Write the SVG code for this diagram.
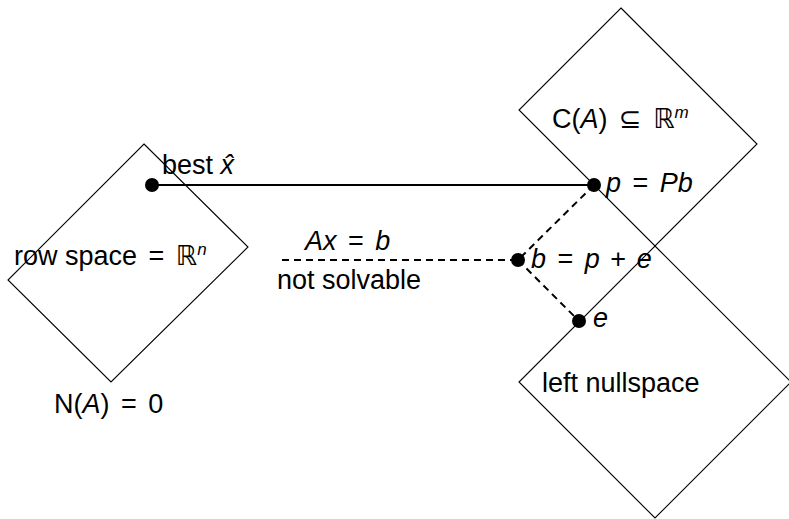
<svg xmlns="http://www.w3.org/2000/svg" width="789" height="519" viewBox="0 0 789 519">
<style>
.sp{fill:none;stroke:#000;stroke-width:1.1}
.t{font-family:"Liberation Sans","DejaVu Sans",sans-serif;font-size:27px;fill:#000}
.i{font-style:italic}
.m{word-spacing:4px}
.b{word-spacing:3px}
.sup{font-size:17px;font-style:italic}
.dot{fill:#000}
.solid{stroke:#000;stroke-width:2;fill:none}
.dash{stroke:#000;stroke-width:2;fill:none;stroke-dasharray:7 5}
</style>
<rect width="789" height="519" fill="#fff"/>
<g id="rowspace">
<polygon class="sp" points="144,144 248,247 111,382 8,280"/>
<text class="t" x="14" y="265">row space<tspan class="m"> = </tspan>ℝ<tspan class="sup" dy="-10">n</tspan></text>
</g>
<g id="nullspace">
<text class="t" x="54" y="413">N(<tspan class="i">A</tspan>)<tspan class="m"> = </tspan>0</text>
</g>
<g id="colspace">
<polygon class="sp" points="621,8 757,144 655,246 519,110"/>
<text class="t" x="552" y="128">C(<tspan class="i">A</tspan>)<tspan class="m"> ⊆ </tspan>ℝ<tspan class="sup" dy="-10">m</tspan></text>
</g>
<g id="leftnull">
<polygon class="sp" points="655,246 791,382 655,518 519,382"/>
<text class="t" x="542" y="392">left nullspace</text>
</g>
<g id="connectors">
<line class="solid" x1="152" y1="185" x2="594" y2="185"/>
<line class="dash" x1="282" y1="260" x2="518" y2="260"/>
<line class="dash" x1="594" y1="185" x2="518" y2="260"/>
<line class="dash" x1="518" y1="260" x2="579" y2="321"/>
</g>
<g id="xhat">
<circle class="dot" cx="152" cy="185" r="7"/>
<text class="t" x="162" y="174">best <tspan class="i">x̂</tspan></text>
</g>
<g id="p">
<circle class="dot" cx="594" cy="185" r="7"/>
<text class="t" x="606" y="192"><tspan class="i">p</tspan><tspan class="m"> = </tspan><tspan class="i">Pb</tspan></text>
</g>
<g id="b">
<circle class="dot" cx="518" cy="260" r="7"/>
<text class="t" x="531" y="268"><tspan class="i">b</tspan><tspan class="m"> = </tspan><tspan class="i">p</tspan><tspan class="b"> + </tspan><tspan class="i">e</tspan></text>
</g>
<g id="e">
<circle class="dot" cx="579" cy="321" r="7"/>
<text class="t" x="593" y="327"><tspan class="i">e</tspan></text>
</g>
<g id="labels">
<text class="t" x="305" y="250"><tspan class="i">Ax</tspan><tspan class="m"> = </tspan><tspan class="i">b</tspan></text>
<text class="t" x="277" y="289">not solvable</text>
</g>
</svg>
